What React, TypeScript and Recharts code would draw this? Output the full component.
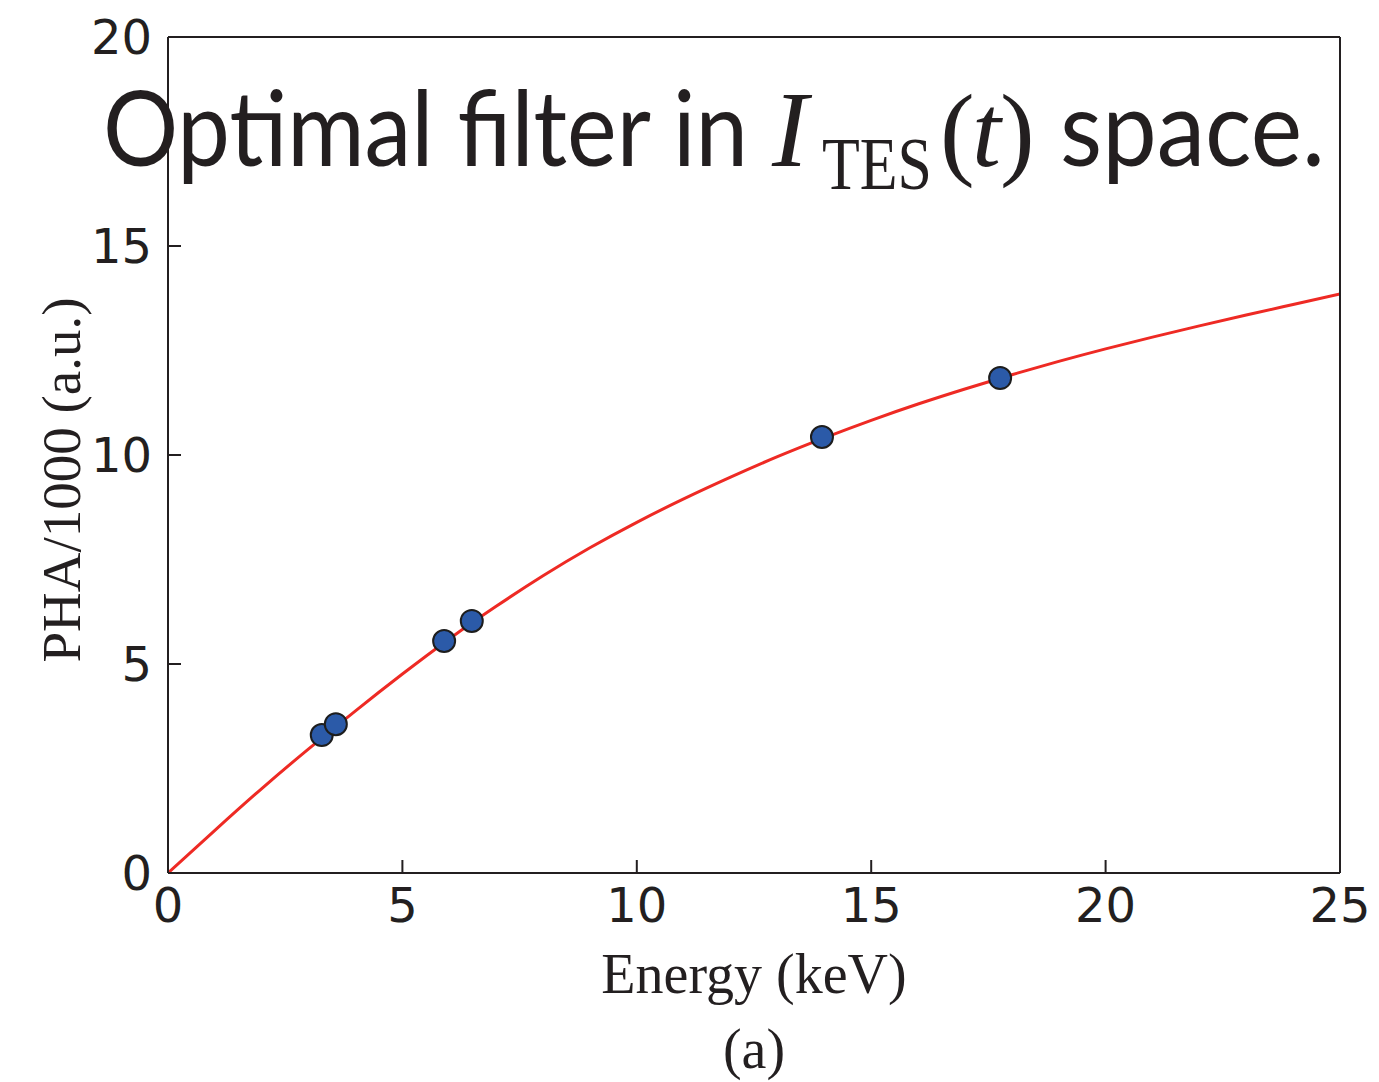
import React from 'react';
import { ComposedChart, Line, Scatter, XAxis, YAxis, Customized } from 'recharts';

const xTicks = [0, 5, 10, 15, 20, 25];
const yTicks = [0, 5, 10, 15, 20];

const pointEnergy = [3.28, 3.58, 5.89, 6.48, 13.95, 17.75];
const pointPHA = [3.30, 3.56, 5.55, 6.03, 10.43, 11.84];

const fitEnergy = [0, 1, 2, 3, 4, 5, 6, 7, 8, 9, 10, 11, 12, 13, 14, 15, 16, 17, 18, 19, 20, 21, 22, 23, 24, 25];
const fitPHA = [0, 1.02, 2.02, 2.97, 3.88, 4.76, 5.60, 6.38, 7.11, 7.78, 8.39, 8.95, 9.47, 9.96, 10.41, 10.83, 11.22, 11.58, 11.92, 12.24, 12.54, 12.82, 13.09, 13.35, 13.60, 13.85];

const points = pointEnergy.map((x, i) => ({ x, y: pointPHA[i] }));
const fit = fitEnergy.map((x, i) => ({ x, y: fitPHA[i] }));

const tickFont = { fontFamily: 'DejaVu Sans', fontSize: 48, fill: '#231f20' };
const AX = '#231f20';

const Dot = (props: any) => (
  <circle cx={props.cx} cy={props.cy} r={11} fill="#2b5aa8" stroke="#1d1d1d" strokeWidth={2} />
);

const Texts = () => (
  <g>
    <text x={103} y={166} fontFamily="Lato" fontWeight={400} fontSize={104} fill="#231f20" textLength={645} lengthAdjust="spacingAndGlyphs">Optimal filter in</text>
    <text x={772} y={166} fontFamily="Liberation Serif" fontStyle="italic" fontSize={108} fill="#231f20">I</text>
    <text x={822} y={189} fontFamily="Liberation Serif" fontSize={74} fill="#231f20" textLength={110} lengthAdjust="spacingAndGlyphs">TES</text>
    <text x={940} y={166} fontFamily="Liberation Serif" fontSize={104} fill="#231f20">(</text>
    <text x={972} y={166} fontFamily="Liberation Serif" fontStyle="italic" fontSize={104} fill="#231f20">t</text>
    <text x={1000} y={166} fontFamily="Liberation Serif" fontSize={104} fill="#231f20">)</text>
    <text x={1060} y={166} fontFamily="Lato" fontWeight={400} fontSize={104} fill="#231f20" textLength={265} lengthAdjust="spacingAndGlyphs">space.</text>
    <text x={754} y={993} textAnchor="middle" fontFamily="Liberation Serif" fontSize={56} fill="#231f20">Energy (keV)</text>
    <text x={754} y={1068} textAnchor="middle" fontFamily="Liberation Serif" fontSize={56} fill="#231f20">(a)</text>
    <text x={0} y={0} transform="translate(80 480) rotate(-90)" textAnchor="middle" fontFamily="Liberation Serif" fontSize={55} fill="#231f20">PHA/1000 (a.u.)</text>
  </g>
);

export default function App() {
  return (
    <div style={{ position: 'absolute', left: 0, top: 0, width: 1379, height: 1082, background: '#fff' }}>
      <ComposedChart width={1379} height={1082} margin={{ top: 36, right: 38, bottom: 129, left: 68 }}>
        <XAxis xAxisId={0} dataKey="x" type="number" domain={[0, 25]} ticks={xTicks} allowDataOverflow
          height={80} tickSize={-13} tickMargin={28} tick={tickFont}
          axisLine={{ stroke: AX, strokeWidth: 2 }} tickLine={{ stroke: AX, strokeWidth: 2 }} />
        <XAxis xAxisId="top" orientation="top" dataKey="x" type="number" domain={[0, 25]} ticks={xTicks} allowDataOverflow
          height={1} tickSize={-13} tick={false}
          axisLine={{ stroke: AX, strokeWidth: 2 }} tickLine={{ stroke: AX, strokeWidth: 2 }} />
        <YAxis yAxisId={0} type="number" domain={[0, 20]} ticks={yTicks} allowDataOverflow
          width={100} tickSize={-13} tickMargin={29} tick={tickFont}
          axisLine={{ stroke: AX, strokeWidth: 2 }} tickLine={{ stroke: AX, strokeWidth: 2 }} />
        <YAxis yAxisId="right" orientation="right" type="number" domain={[0, 20]} ticks={yTicks} allowDataOverflow
          width={1} tickSize={-13} tick={false}
          axisLine={{ stroke: AX, strokeWidth: 2 }} tickLine={{ stroke: AX, strokeWidth: 2 }} />
        <Line data={fit} dataKey="y" type="natural" stroke="#ee2a24" strokeWidth={3} dot={false} isAnimationActive={false} />
        <Scatter data={points} dataKey="y" shape={Dot} isAnimationActive={false} />
        <Customized component={Texts} />
      </ComposedChart>
    </div>
  );
}
